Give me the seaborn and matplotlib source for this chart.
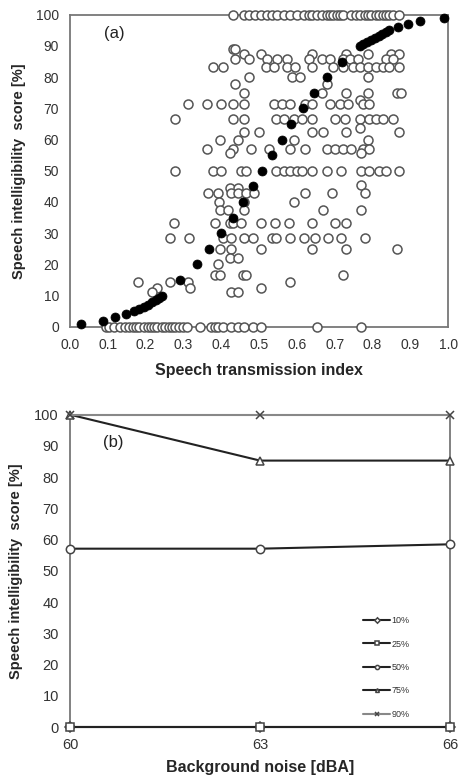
import numpy as np
import pandas as pd
import seaborn as sns
import matplotlib
matplotlib.use('Agg')
import matplotlib.pyplot as plt

sns.set_style('white')
plt.rcParams['font.family'] = ['Liberation Sans', 'DejaVu Sans']

# ---- panel (a): individual scores vs STI (open circles), one row per score level ----
levels = [100, 88.9, 87.5, 85.7, 83.3, 80.0, 77.8, 75.0, 72.7, 71.4, 66.7, 63.6, 62.5, 60.0,
          57.1, 55.6, 50.0, 45.5, 44.4, 42.9, 40.0, 37.5, 33.3, 28.6, 25.0, 22.2, 20.0,
          16.7, 14.3, 12.5, 11.1, 0]
sti_rows = [
    [0.431, 0.461, 0.474, 0.49, 0.505, 0.522, 0.535, 0.548, 0.566, 0.583, 0.60, 0.62, 0.631,
     0.64, 0.653, 0.666, 0.679, 0.688, 0.696, 0.705, 0.714, 0.722, 0.744, 0.757, 0.766, 0.779,
     0.788, 0.797, 0.809, 0.818, 0.827, 0.835, 0.844, 0.853, 0.87],
    [0.431, 0.435],
    [0.461, 0.505, 0.64, 0.731, 0.788, 0.848, 0.87],
    [0.435, 0.474, 0.522, 0.548, 0.574, 0.631, 0.666, 0.688, 0.722, 0.740, 0.761, 0.835, 0.853],
    [0.378, 0.405, 0.518, 0.54, 0.574, 0.596, 0.64, 0.696, 0.722, 0.748, 0.766, 0.788, 0.809,
     0.827, 0.844, 0.87],
    [0.474, 0.587, 0.609, 0.788],
    [0.435, 0.679],
    [0.461, 0.666, 0.731, 0.788, 0.866, 0.875],
    [0.766],
    [0.313, 0.361, 0.40, 0.431, 0.461, 0.54, 0.561, 0.583, 0.622, 0.64, 0.688, 0.714, 0.735,
     0.774, 0.792],
    [0.278, 0.431, 0.461, 0.544, 0.566, 0.592, 0.613, 0.64, 0.701, 0.727, 0.766, 0.792, 0.809,
     0.827, 0.853],
    [0.766],
    [0.461, 0.50, 0.64, 0.670, 0.731, 0.87],
    [0.396, 0.444, 0.592, 0.788],
    [0.361, 0.431, 0.479, 0.527, 0.583, 0.622, 0.679, 0.701, 0.722, 0.744, 0.774, 0.792],
    [0.422, 0.770],
    [0.278, 0.378, 0.40, 0.453, 0.466, 0.544, 0.566, 0.583, 0.60, 0.613, 0.64, 0.679, 0.718,
     0.770, 0.792, 0.818, 0.835, 0.87],
    [0.770],
    [0.422, 0.444],
    [0.364, 0.392, 0.426, 0.444, 0.466, 0.487, 0.622, 0.692, 0.779],
    [0.393, 0.46, 0.592],
    [0.396, 0.418, 0.461, 0.670, 0.770],
    [0.276, 0.383, 0.422, 0.431, 0.453, 0.505, 0.541, 0.579, 0.640, 0.701, 0.731],
    [0.265, 0.315, 0.405, 0.426, 0.461, 0.483, 0.535, 0.544, 0.583, 0.618, 0.648, 0.683,
     0.718, 0.779],
    [0.396, 0.426, 0.505, 0.640, 0.731, 0.866],
    [0.422, 0.444],
    [0.392],
    [0.383, 0.396, 0.457, 0.466, 0.722],
    [0.179, 0.265, 0.313, 0.583],
    [0.231, 0.318, 0.505],
    [0.218, 0.426, 0.444],
    [0.096, 0.104, 0.117, 0.131, 0.144, 0.157, 0.166, 0.174, 0.183, 0.196, 0.205, 0.213,
     0.222, 0.231, 0.244, 0.252, 0.261, 0.27, 0.278, 0.287, 0.30, 0.31, 0.344, 0.374, 0.383,
     0.392, 0.405, 0.426, 0.444, 0.461, 0.483, 0.505, 0.653, 0.77],
]

# filled points (percentile curve)
fit_sti = [0.03, 0.087, 0.12, 0.148, 0.17, 0.183, 0.196, 0.207, 0.217, 0.227, 0.236, 0.244,
           0.29, 0.335, 0.367, 0.40, 0.43, 0.457, 0.483, 0.507, 0.535, 0.56, 0.585, 0.616,
           0.644, 0.679, 0.72, 0.766, 0.776, 0.786, 0.796, 0.806, 0.816, 0.826, 0.835, 0.844,
           0.868, 0.895, 0.927, 0.988]
fit_score = [1, 2, 3, 4, 5, 5.7, 6.4, 7.1, 7.9, 8.6, 9.3, 10,
             15, 20, 25, 30, 35, 40, 45, 50, 55, 60, 65, 70,
             75, 80, 85, 90, 90.7, 91.4, 92, 92.7, 93.3, 94, 94.5, 95,
             96, 97, 98, 99]

# ---- panel (b): percentiles vs background noise ----
noise = [60, 63, 66]
pct_labels = ['10%', '25%', '50%', '75%', '90%']
pct_values = [
    [0, 0, 0],
    [0, 0, 0],
    [57.1, 57.1, 58.5],
    [100, 85.3, 85.3],
    [100, 100, 100],
]
pct_markers = ['D', 's', 'o', '^', 'x']

rows = []
for lev, xs in zip(levels, sti_rows):
    for x in xs:
        rows.append((x, lev))
df_open = pd.DataFrame(rows, columns=['sti', 'score'])
df_fit = pd.DataFrame({'sti': fit_sti, 'score': fit_score})

fig = plt.figure(figsize=(4.61, 7.78), dpi=100)
ax1 = fig.add_axes([0.152, 0.580, 0.820, 0.401])
ax2 = fig.add_axes([0.152, 0.0655, 0.824, 0.4015])

tick_col = '#333333'
spine_col = '#777777'

sns.scatterplot(data=df_open, x='sti', y='score', ax=ax1, s=42, facecolor='white',
                edgecolor='#555555', linewidth=1.1, marker='o', clip_on=False, zorder=3)
sns.scatterplot(data=df_fit, x='sti', y='score', ax=ax1, s=42, color='black',
                edgecolor='black', linewidth=0.5, marker='o', clip_on=False, zorder=4)

ax1.set_xlim(0, 1)
ax1.set_ylim(0, 100)
ax1.set_xticks(np.arange(0, 1.01, 0.1))
ax1.set_xticklabels(['%.1f' % v for v in np.arange(0, 1.01, 0.1)])
ax1.set_yticks(range(0, 101, 10))
ax1.tick_params(direction='in', length=4, width=1, colors=spine_col, labelcolor=tick_col,
                labelsize=10, pad=8)
ax1.set_xlabel('Speech transmission index', fontsize=11.5, fontweight='bold', labelpad=8)
ax1.set_ylabel('Speech intelligibility  score [%]', fontsize=10.5, fontweight='bold',
               labelpad=7)
ax1.text(0.09, 94, '(a)', fontsize=12, color='#222222', va='center')

for ax in (ax1, ax2):
    for sp in ax.spines.values():
        sp.set_color(spine_col)
        sp.set_linewidth(1.3)

for lab, vals, mk in zip(pct_labels, pct_values, pct_markers):
    col = '#888888' if lab == '90%' else '#222222'
    ms = 6 if mk in ('s', 'o') else 5.5
    sns.lineplot(x=noise, y=vals, ax=ax2, marker=mk, markersize=ms, color=col,
                 markerfacecolor='white', markeredgecolor='#444444', markeredgewidth=1.1,
                 linewidth=1.5, label=lab, clip_on=False, zorder=3)

ax2.set_xlim(60, 66)
ax2.set_ylim(0, 100)
ax2.set_xticks(noise)
ax2.set_yticks(range(0, 101, 10))
ax2.tick_params(direction='out', length=4, width=1, colors=spine_col, labelcolor=tick_col,
                labelsize=10.5, pad=4)
ax2.set_xlabel('Background noise [dBA]', fontsize=11.5, fontweight='bold', labelpad=6)
ax2.set_ylabel('Speech intelligibility  score [%]', fontsize=10.5, fontweight='bold',
               labelpad=8)
ax2.text(60.52, 91, '(b)', fontsize=12, color='#222222', va='center')

leg = ax2.legend(loc='lower right', bbox_to_anchor=(0.915, 0.0), frameon=False, fontsize=6.5,
                 handlelength=3, labelspacing=1.6, handletextpad=0.1, markerscale=0.5)
for t in leg.get_texts():
    t.set_color('#333333')

fig.savefig('out.png', dpi=100)
